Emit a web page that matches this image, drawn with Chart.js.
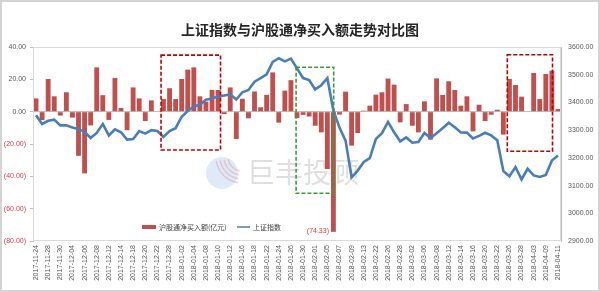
<!DOCTYPE html>
<html>
<head>
<meta charset="utf-8">
<script src="https://cdn.jsdelivr.net/npm/chart.js@4.4.1/dist/chart.umd.min.js"></script>
<style>
  html, body { margin: 0; padding: 0; background: #fff; }
  #flowChart { display: block; }
</style>
</head>
<body>
<canvas id="flowChart" width="600" height="292"></canvas>
<script>
// 交易日 (沪股通)
const categories = [
  '2017-11-24', '2017-11-27', '2017-11-28', '2017-11-29', '2017-11-30', '2017-12-01',
  '2017-12-04', '2017-12-05', '2017-12-06', '2017-12-07', '2017-12-08', '2017-12-11',
  '2017-12-12', '2017-12-13', '2017-12-14', '2017-12-15', '2017-12-18', '2017-12-19',
  '2017-12-20', '2017-12-21', '2017-12-22', '2017-12-27', '2017-12-28', '2017-12-29',
  '2018-01-02', '2018-01-03', '2018-01-04', '2018-01-05', '2018-01-08', '2018-01-09',
  '2018-01-10', '2018-01-11', '2018-01-12', '2018-01-15', '2018-01-16', '2018-01-17',
  '2018-01-18', '2018-01-19', '2018-01-22', '2018-01-23', '2018-01-24', '2018-01-25',
  '2018-01-26', '2018-01-29', '2018-01-30', '2018-01-31', '2018-02-01', '2018-02-02',
  '2018-02-05', '2018-02-06', '2018-02-07', '2018-02-08', '2018-02-09', '2018-02-12',
  '2018-02-13', '2018-02-14', '2018-02-22', '2018-02-23', '2018-02-26', '2018-02-27',
  '2018-02-28', '2018-03-01', '2018-03-02', '2018-03-05', '2018-03-06', '2018-03-07',
  '2018-03-08', '2018-03-09', '2018-03-12', '2018-03-13', '2018-03-14', '2018-03-15',
  '2018-03-16', '2018-03-19', '2018-03-20', '2018-03-21', '2018-03-22', '2018-03-23',
  '2018-03-26', '2018-03-27', '2018-03-28', '2018-03-29', '2018-04-03', '2018-04-04',
  '2018-04-09', '2018-04-10', '2018-04-11'
];

// 沪股通净买入额 (亿元)
const flowValues = [
  8.2, -5.2, 20.2, 9.5, -2.4, 12, -3.7, -27.3, -38.2, -8.5, 27.4, 10.2,
  -5.1, 20.8, 2.3, -11.5, 15, 8.2, -5.8, 7, 0.3, 7.8, 14.5, 7.8,
  20.2, 26, 27.4, 9.5, 6.2, 13.5, 13.4, -1.5, 15, -16.9, 8, -4.1,
  12.5, 2.7, 10.4, 24.3, -6.8, 13, 19.5, -4, -2, -3, -8.7, -12.8,
  -35.5, -74.33, -1.8, 12.4, -21, -13.2, 0.6, 3.7, 10.5, 12, 20.5, 16.7,
  -6.6, 4.7, -8.7, -12.8, 6.4, -17.3, 20.6, 10.3, 18.8, 13.4, 3.7, 9.5,
  -12.2, 4.3, -5.8, -1.9, 1.2, -14.2, 20.2, 16.5, 9.3, 0, 23.9, 7.8,
  23.3, 25.4, 1.6
];

// 上证指数 收盘
const indexValues = [
  3353.8, 3322.2, 3333.7, 3337.9, 3317.2, 3317.6, 3309.6, 3303.7, 3294.0, 3272.1, 3290.0, 3322.2,
  3280.8, 3303.0, 3292.4, 3266.1, 3267.9, 3296.5, 3287.6, 3300.1, 3297.1, 3275.8, 3296.4, 3307.2,
  3348.3, 3369.1, 3385.7, 3391.8, 3409.5, 3413.9, 3421.8, 3425.3, 3428.9, 3410.5, 3436.6, 3444.7,
  3474.8, 3487.9, 3501.4, 3546.5, 3559.5, 3548.3, 3558.1, 3523.0, 3488.0, 3480.8, 3447.0, 3462.1,
  3487.5, 3370.7, 3309.3, 3262.1, 3129.9, 3154.1, 3185.0, 3199.2, 3268.6, 3289.0, 3329.6, 3292.1,
  3259.4, 3273.8, 3254.5, 3256.9, 3289.6, 3271.7, 3288.4, 3307.2, 3326.7, 3310.2, 3291.4, 3291.1,
  3269.9, 3279.3, 3290.6, 3281.0, 3263.5, 3152.8, 3133.7, 3166.7, 3122.3, 3160.5, 3136.6, 3131.1,
  3138.3, 3190.3, 3208.1
];

// 标注框: 类别区间 + 左轴数值区间
const boxStarts = [20.6, 77.65, 42.85];
const boxEnds = [30.4, 85.1, 49.05];
const boxTops = [35, 35.2, 27.5];
const boxBottoms = [-23.7, -24.5, -50.5];
const boxColors = ['#c00000', '#c00000', '#3a9d3a'];

const BAR_COLOR = '#c0504d';
const LINE_COLOR = '#4a7ebb';
const NEG_COLOR = '#d9403a';
const TEXT_COLOR = '#595959';

Chart.defaults.font.family = '"Liberation Sans", "Noto Sans CJK SC", sans-serif';

// 背景, 外框, 标题, 水印
const backdropPlugin = {
  id: 'backdrop',
  beforeDraw(chart) {
    const ctx = chart.ctx;
    const area = chart.chartArea;
    ctx.save();
    ctx.fillStyle = '#ffffff';
    ctx.fillRect(0, 0, chart.width, chart.height);
    ctx.strokeStyle = '#d4d4d4';
    ctx.lineWidth = 2;
    ctx.strokeRect(1, 1, chart.width - 2, chart.height - 2);

    ctx.fillStyle = '#262626';
    ctx.font = 'bold 14px "Noto Sans CJK SC"';
    ctx.textAlign = 'center';
    ctx.textBaseline = 'middle';
    ctx.fillText('上证指数与沪股通净买入额走势对比图', chart.width / 2, 30);
    ctx.restore();
  },
  beforeDatasetsDraw(chart) {
    const ctx = chart.ctx;
    ctx.save();
    // 水印 logo
    const cx = 222, cy = 173;
    ctx.fillStyle = 'rgba(160, 195, 235, 0.35)';
    ctx.beginPath();
    ctx.arc(cx, cy, 16, 0, Math.PI * 2);
    ctx.fill();
    ctx.strokeStyle = 'rgba(230, 150, 160, 0.45)';
    ctx.lineWidth = 1.5;
    for (let i = 0; i < 4; i++) {
      ctx.beginPath();
      ctx.arc(cx + 20, cy - 16, 14 + i * 4, Math.PI * 0.55, Math.PI * 0.95);
      ctx.stroke();
    }
    ctx.fillStyle = 'rgba(185, 185, 185, 0.45)';
    ctx.font = '28px "Noto Sans CJK SC"';
    ctx.textAlign = 'left';
    ctx.textBaseline = 'middle';
    ctx.fillText('巨丰投顾', 247, 172);
    ctx.restore();
  }
};

// 绘图区边框, 标注框, 图例, 数据标签
const overlayPlugin = {
  id: 'overlay',
  afterDatasetsDraw(chart) {
    const ctx = chart.ctx;
    const area = chart.chartArea;
    const x = chart.scales.x;
    const y = chart.scales.y;
    ctx.save();

    ctx.strokeStyle = '#d9d9d9';
    ctx.lineWidth = 1;
    ctx.strokeRect(area.left + 0.5, area.top + 0.5, area.width - 1, area.height - 1);

    // 虚线框
    ctx.lineWidth = 1.6;
    ctx.setLineDash([4, 2]);
    boxStarts.forEach(function (start, i) {
      const left = x.getPixelForValue(start);
      const right = x.getPixelForValue(boxEnds[i]);
      const top = y.getPixelForValue(boxTops[i]);
      const bottom = y.getPixelForValue(boxBottoms[i]);
      ctx.strokeStyle = boxColors[i];
      ctx.strokeRect(left, top, right - left, bottom - top);
    });
    ctx.setLineDash([]);

    // 最大流出标签
    const minIndex = flowValues.indexOf(Math.min.apply(null, flowValues));
    const barMeta = chart.getDatasetMeta(1);
    const bar = barMeta.data[minIndex];
    ctx.fillStyle = NEG_COLOR;
    ctx.font = '7px "Liberation Sans"';
    ctx.textAlign = 'right';
    ctx.textBaseline = 'middle';
    ctx.fillText('(' + Math.abs(flowValues[minIndex]).toFixed(2) + ')', bar.x - bar.width / 2 - 2, bar.y - 1);

    // 图例
    const ly = area.bottom - 14;
    const lx = area.left + 109;
    ctx.font = '7px "Noto Sans CJK SC"';
    ctx.textAlign = 'left';
    ctx.fillStyle = BAR_COLOR;
    ctx.fillRect(lx, ly - 2, 14, 4);
    ctx.fillStyle = '#404040';
    ctx.fillText(chart.data.datasets[1].label, lx + 17, ly);
    ctx.strokeStyle = LINE_COLOR;
    ctx.lineWidth = 1.5;
    ctx.beginPath();
    ctx.moveTo(lx + 95, ly);
    ctx.lineTo(lx + 108, ly);
    ctx.stroke();
    ctx.fillText(chart.data.datasets[0].label, lx + 111, ly);
    ctx.restore();
  }
};

const chartEl = document.getElementById('flowChart').getContext('2d');

new Chart(chartEl, {
  data: {
    labels: categories,
    datasets: [
      {
        type: 'line',
        label: '上证指数',
        data: indexValues,
        yAxisID: 'y1',
        borderColor: LINE_COLOR,
        borderWidth: 2.6,
        pointRadius: 0,
        tension: 0
      },
      {
        type: 'bar',
        label: '沪股通净买入额(亿元)',
        data: flowValues,
        yAxisID: 'y',
        backgroundColor: BAR_COLOR,
        borderWidth: 0,
        categoryPercentage: 1,
        barPercentage: 0.8
      }
    ]
  },
  options: {
    responsive: false,
    animation: false,
    devicePixelRatio: 1,
    layout: { padding: { top: 47, left: 0, right: 0, bottom: 0 } },
    plugins: {
      legend: { display: false },
      title: { display: false },
      tooltip: { enabled: false }
    },
    scales: {
      x: {
        grid: { display: false, drawTicks: false },
        border: { display: false },
        ticks: {
          autoSkip: false,
          maxRotation: 90,
          minRotation: 90,
          padding: 4,
          color: TEXT_COLOR,
          font: { size: 7 },
          callback: function (value, index) {
            return index % 2 === 0 ? categories[index] : '';
          }
        },
        afterFit: function (scale) { scale.height = 51; }
      },
      y: {
        position: 'left',
        min: -80,
        max: 40,
        border: { display: true, color: '#bfbfbf' },
        grid: {
          color: function (ctx) { return ctx.tick && ctx.tick.value === 0 ? '#bfbfbf' : 'rgba(0,0,0,0)'; },
          tickColor: '#bfbfbf',
          tickLength: 3
        },
        ticks: {
          stepSize: 20,
          padding: 4,
          font: { size: 7 },
          color: function (ctx) { return ctx.tick.value < 0 ? NEG_COLOR : TEXT_COLOR; },
          callback: function (value) {
            return value < 0 ? '(' + Math.abs(value).toFixed(2) + ')' : value.toFixed(2);
          }
        },
        afterFit: function (scale) { scale.width = 33; }
      },
      y1: {
        position: 'right',
        min: 2900,
        max: 3600,
        border: { display: true, color: '#bfbfbf' },
        grid: { drawOnChartArea: false, drawTicks: false },
        ticks: {
          stepSize: 100,
          padding: 7,
          font: { size: 7 },
          color: TEXT_COLOR,
          callback: function (value) { return value.toFixed(2); }
        },
        afterFit: function (scale) { scale.width = 39; }
      }
    }
  },
  plugins: [backdropPlugin, overlayPlugin]
});
</script>
</body>
</html>
